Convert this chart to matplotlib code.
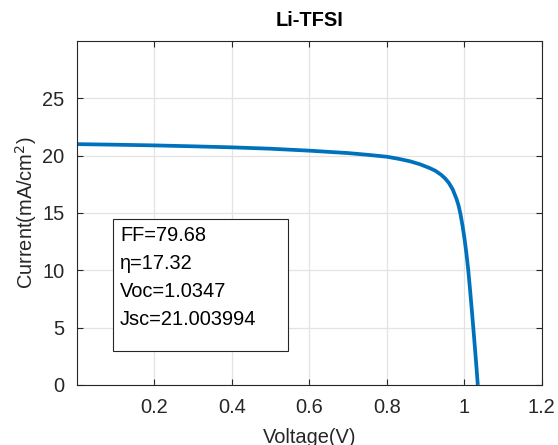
import matplotlib
matplotlib.use("Agg")
import matplotlib.pyplot as plt
from matplotlib.patches import Rectangle

# J-V curve
voltage = [0.0, 0.1, 0.2, 0.3, 0.4, 0.5, 0.6, 0.7, 0.75, 0.8, 0.83, 0.86, 0.885,
           0.91, 0.925, 0.94, 0.95, 0.96, 0.97, 0.98, 0.985, 0.99, 0.995, 1.0,
           1.005, 1.01, 1.015, 1.02, 1.025, 1.03, 1.0347]
current = [21.00, 20.95, 20.89, 20.81, 20.72, 20.60, 20.43, 20.22, 20.07, 19.90,
           19.72, 19.50, 19.25, 18.92, 18.68, 18.33, 18.02, 17.62, 17.05, 16.20,
           15.65, 14.90, 13.95, 12.85, 11.55, 10.05, 8.20, 6.25, 4.20, 2.10, 0.0]
params = ["FF=79.68", "\u03b7=17.32", "Voc=1.0347", "Jsc=21.003994"]
xticks = [0.2, 0.4, 0.6, 0.8, 1.0, 1.2]
xticklabels = ["0.2", "0.4", "0.6", "0.8", "1", "1.2"]
yticks = [0, 5, 10, 15, 20, 25]

plt.rcParams['font.family'] = ['Liberation Sans', 'DejaVu Sans']
fs = 14.4
axcol = '#262626'

fig = plt.figure(figsize=(5.58, 4.45), dpi=100)
ax = fig.add_axes([0.138, 0.135, 0.833, 0.773])

ax.plot(voltage, current, color='#0072BD', linewidth=2.7, solid_capstyle='butt',
        solid_joinstyle='round')

ax.set_xlim(0, 1.2)
ax.set_ylim(0, 30)
ax.set_xticks(xticks)
ax.set_xticklabels(xticklabels)
ax.set_yticks(yticks)
ax.grid(True, color='#e3e3e3', linewidth=0.9)
ax.set_axisbelow(True)
ax.tick_params(direction='in', top=True, right=True, labelsize=fs, colors=axcol,
               length=4, width=0.8)
ax.tick_params(axis='x', pad=9.5)
ax.tick_params(axis='y', pad=9)
for s in ax.spines.values():
    s.set_color(axcol)
    s.set_linewidth(0.8)

ax.set_title("Li-TFSI", fontsize=fs, fontweight='bold', color='black', pad=11)
ax.set_xlabel("Voltage(V)", fontsize=fs, color=axcol, labelpad=7.5)
ax.set_ylabel("Current(mA/cm$^2$)", fontsize=fs, color=axcol, labelpad=2)

# parameter box
ax.add_patch(Rectangle((0.093, 3.0), 0.452, 11.5, facecolor='white',
                       edgecolor=axcol, linewidth=0.8, zorder=3))
for i, t in enumerate(params):
    ax.text(0.111, 13.0 - i * 2.42, t, fontsize=fs, color='black',
            va='center', ha='left', zorder=4)

fig.savefig("out.png", dpi=100)
